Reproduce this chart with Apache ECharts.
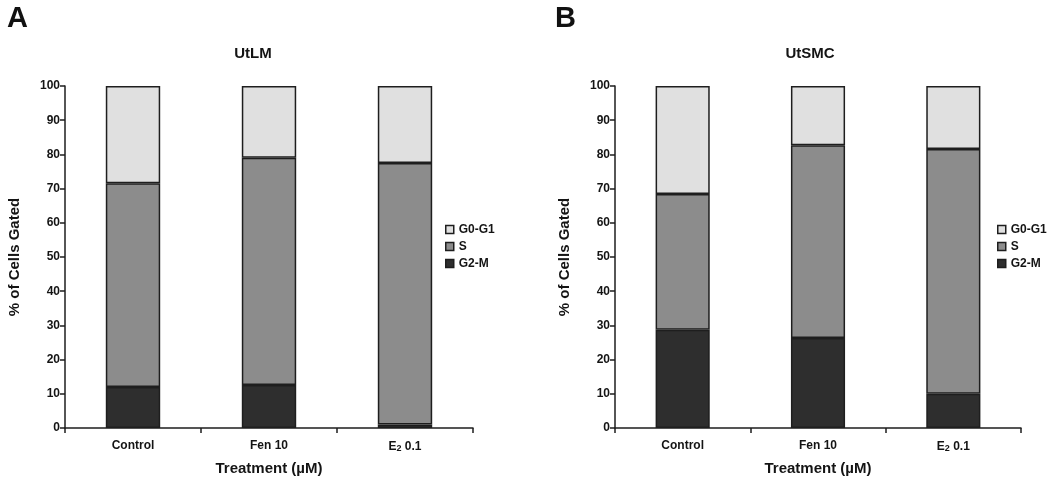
<!DOCTYPE html>
<html>
<head>
<meta charset="utf-8">
<script src="https://cdn.jsdelivr.net/npm/echarts@6/dist/echarts.min.js"></script>
<style>html,body{margin:0;padding:0;background:#fff}#c{width:1050px;height:482px}</style>
</head>
<body>
<div id="c"></div>
<script>
const categories = ['Control', 'Fen 10', 'E2 0.1'];
const yTicks = [0, 10, 20, 30, 40, 50, 60, 70, 80, 90, 100];
const seriesNames = ['G0-G1', 'S', 'G2-M'];
// Panel A: UtLM
const utlmG2M = [12.0, 12.6, 1.0];
const utlmS   = [59.6, 66.4, 76.5];
const utlmG0G1 = [28.4, 21.0, 22.5];
// Panel B: UtSMC
const utsmcG2M = [28.7, 26.3, 10.0];
const utsmcS   = [39.7, 56.4, 71.6];
const utsmcG0G1 = [31.6, 17.3, 18.4];

const colors = {'G0-G1': '#e0e0e0', 'S': '#8c8c8c', 'G2-M': '#2e2e2e'};
const FONT = 'Liberation Sans, Arial, sans-serif';
const TXT = '#141414';

function xAxis(gi) {
  return {
    type: 'category', gridIndex: gi, data: categories,
    axisLine: {lineStyle: {color: '#1e1e1e', width: 1.5}},
    axisTick: {show: true, length: 5, lineStyle: {color: '#1e1e1e', width: 1.5}},
    axisLabel: {
      margin: 12, color: TXT, fontFamily: FONT, fontWeight: 'bold', fontSize: 12,
      formatter: v => v === 'E2 0.1' ? 'E{sub|2} 0.1' : v,
      rich: {sub: {fontSize: 9, fontWeight: 'bold', fontFamily: FONT, color: TXT, verticalAlign: 'bottom', padding: [4, 0, 0, 0]}}
    },
    name: 'Treatment (\u00b5M)', nameLocation: 'middle', nameGap: 33,
    nameTextStyle: {color: TXT, fontFamily: FONT, fontWeight: 'bold', fontSize: 15}
  };
}
function yAxis(gi) {
  return {
    type: 'value', gridIndex: gi, min: 0, max: 100, interval: 10,
    axisLine: {show: true, lineStyle: {color: '#1e1e1e', width: 1.5}},
    axisTick: {show: true, length: 5, lineStyle: {color: '#1e1e1e', width: 1.5}},
    splitLine: {show: false},
    axisLabel: {margin: 5, color: TXT, fontFamily: FONT, fontWeight: 'bold', fontSize: 12,
      formatter: v => yTicks.includes(v) ? String(v) : ''},
    name: '% of Cells Gated', nameLocation: 'middle', nameGap: 43, nameRotate: 90,
    nameTextStyle: {color: TXT, fontFamily: FONT, fontWeight: 'bold', fontSize: 15}
  };
}
function bar(name, data, gi, stack) {
  return {
    type: 'bar', name, data, xAxisIndex: gi, yAxisIndex: gi, stack,
    barWidth: '40%',
    itemStyle: {color: colors[name], borderColor: '#1e1e1e', borderWidth: 1.5},
    emphasis: {disabled: true}, animation: false
  };
}
function legend(left) {
  return {
    data: seriesNames, orient: 'vertical', left, top: 223, padding: 0,
    itemWidth: 8, itemHeight: 8, itemGap: 4,
    textStyle: {color: TXT, fontFamily: FONT, fontWeight: 'bold', fontSize: 12, lineHeight: 13},
    icon: 'rect',
    itemStyle: {borderColor: '#1e1e1e', borderWidth: 1.5}
  };
}
const chart = echarts.init(document.getElementById('c'), null, {renderer: 'canvas'});
chart.setOption({
  backgroundColor: '#fff',
  animation: false,
  title: [
    {text: 'A', left: 2, top: -1, textStyle: {fontFamily: FONT, fontWeight: 'bold', fontSize: 29, color: '#111'}},
    {text: 'B', left: 550, top: -1, textStyle: {fontFamily: FONT, fontWeight: 'bold', fontSize: 29, color: '#111'}},
    {text: 'UtLM', left: 248, top: 41, textAlign: 'center', textStyle: {fontFamily: FONT, fontWeight: 'bold', fontSize: 15, color: TXT}},
    {text: 'UtSMC', left: 805, top: 41, textAlign: 'center', textStyle: {fontFamily: FONT, fontWeight: 'bold', fontSize: 15, color: TXT}}
  ],
  legend: [legend(445), legend(997)],
  grid: [
    {left: 65, top: 86, width: 408, height: 342},
    {left: 615, top: 86, width: 406, height: 342}
  ],
  xAxis: [xAxis(0), xAxis(1)],
  yAxis: [yAxis(0), yAxis(1)],
  series: [
    bar('G2-M', utlmG2M, 0, 'a'),
    bar('S', utlmS, 0, 'a'),
    bar('G0-G1', utlmG0G1, 0, 'a'),
    bar('G2-M', utsmcG2M, 1, 'b'),
    bar('S', utsmcS, 1, 'b'),
    bar('G0-G1', utsmcG0G1, 1, 'b')
  ]
});
</script>
</body>
</html>
